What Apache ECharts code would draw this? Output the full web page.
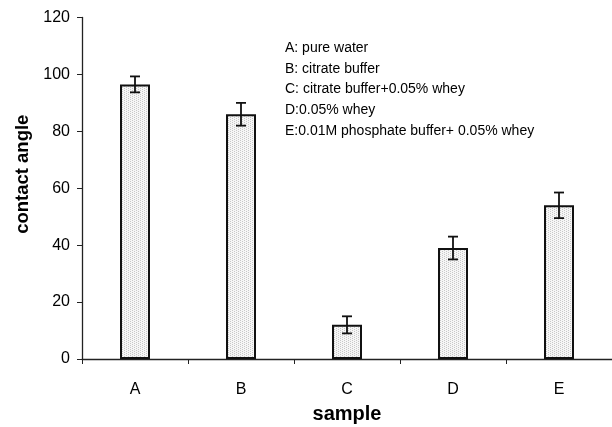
<!DOCTYPE html>
<html>
<head>
<meta charset="utf-8">
<script src="https://cdn.jsdelivr.net/npm/echarts@6/dist/echarts.min.js"></script>
<style>
  html, body { margin: 0; padding: 0; background: #fff; }
  #main { width: 612px; height: 427px; }
</style>
</head>
<body>
<div id="main"></div>
<script>
// data
var categories = ['A', 'B', 'C', 'D', 'E'];
var angles = [96.5, 86, 12, 39, 54];
var errors = [2.8, 4, 3, 4, 4.5];
var yTicks = [0, 20, 40, 60, 80, 100, 120];
var notes = [
    'A: pure water',
    'B: citrate buffer',
    'C: citrate buffer+0.05% whey',
    'D:0.05% whey',
    'E:0.01M phosphate buffer+ 0.05% whey'
];

// stipple fill for the bars
function stipple() {
    var c = document.createElement('canvas');
    c.width = 4; c.height = 4;
    var ctx = c.getContext('2d');
    ctx.fillStyle = '#f6f6f6';
    ctx.fillRect(0, 0, 4, 4);
    ctx.fillStyle = '#c8c8c8';
    ctx.fillRect(0, 0, 1, 1);
    ctx.fillRect(2, 1, 1, 1);
    ctx.fillRect(0, 2, 1, 1);
    ctx.fillRect(2, 3, 1, 1);
    return c;
}

var errData = categories.map(function (c, i) {
    return [i, angles[i] - errors[i], angles[i] + errors[i]];
});

var chart = echarts.init(document.getElementById('main'));
var font = '"Liberation Sans", Arial, sans-serif';

var option = {
    animation: false,
    grid: { left: 82, right: 0, top: 17.5, bottom: 68, outerBoundsMode: 'none' },
    xAxis: {
        type: 'category',
        data: categories,
        name: 'sample',
        nameLocation: 'middle',
        nameGap: 45,
        nameTextStyle: { fontFamily: font, fontSize: 20, fontWeight: 'bold', color: '#000' },
        axisLine: { lineStyle: { color: '#222', width: 1.3 } },
        axisTick: { show: true, length: 5, lineStyle: { color: '#222', width: 1 } },
        axisLabel: { fontFamily: font, fontSize: 16, color: '#000', margin: 23 }
    },
    yAxis: {
        type: 'value',
        min: yTicks[0],
        max: yTicks[yTicks.length - 1],
        interval: 20,
        name: 'contact angle',
        nameLocation: 'middle',
        nameGap: 50,
        nameTextStyle: { fontFamily: font, fontSize: 18.5, fontWeight: 'bold', color: '#000', padding: [0, 0, 0, 28] },
        axisLine: { show: true, lineStyle: { color: '#222', width: 1.3 } },
        axisTick: { show: true, length: 5, lineStyle: { color: '#222', width: 1 } },
        axisLabel: { fontFamily: font, fontSize: 16, color: '#000', margin: 12 },
        splitLine: { show: false }
    },
    series: [
        {
            type: 'bar',
            data: angles,
            barWidth: 30,
            itemStyle: {
                color: { image: stipple(), repeat: 'repeat' },
                borderColor: '#111',
                borderWidth: 2
            }
        },
        {
            type: 'custom',
            data: errData,
            z: 10,
            renderItem: function (params, api) {
                var lo = api.coord([api.value(0), api.value(1)]);
                var hi = api.coord([api.value(0), api.value(2)]);
                var w = 5;
                var st = { stroke: '#111', lineWidth: 1.8 };
                return {
                    type: 'group',
                    children: [
                        { type: 'line', shape: { x1: hi[0], y1: hi[1], x2: lo[0], y2: lo[1] }, style: st },
                        { type: 'line', shape: { x1: hi[0] - w, y1: hi[1], x2: hi[0] + w, y2: hi[1] }, style: st },
                        { type: 'line', shape: { x1: lo[0] - w, y1: lo[1], x2: lo[0] + w, y2: lo[1] }, style: st }
                    ]
                };
            }
        }
    ],
    graphic: [
        {
            type: 'text',
            left: 285,
            top: 38,
            style: {
                text: notes.join('\n'),
                fontFamily: font,
                fontSize: 14,
                lineHeight: 20.6,
                fill: '#000'
            }
        }
    ]
};

chart.setOption(option);
</script>
</body>
</html>
